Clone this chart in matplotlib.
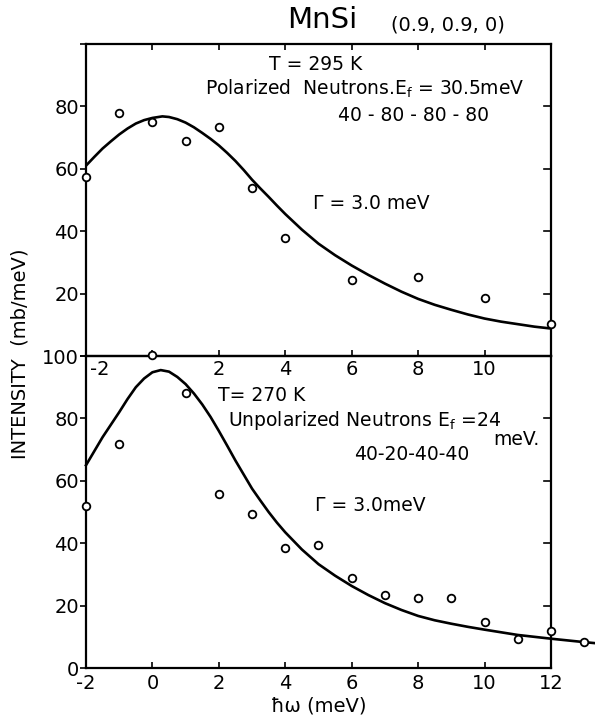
import matplotlib
matplotlib.use("Agg")
import matplotlib.pyplot as plt
import matplotlib.transforms as mtransforms

plt.rcParams['font.family'] = ['DejaVu Sans']
plt.rcParams['mathtext.fontset'] = 'dejavusans'

# upper panel: T = 295 K, polarized neutrons
hw_pol = [-2, -1, 0, 1, 2, 3, 4, 6, 8, 10, 12]
int_pol = [57.5, 78, 75, 69, 73.4, 53.7, 37.7, 24.3, 25.3, 18.6, 10.4]
fit_x_pol = [-2, -1.75, -1.5, -1.25, -1, -0.75, -0.5, -0.25, 0, 0.3, 0.5,
             0.75, 1, 1.25, 1.5, 1.75, 2, 2.25, 2.5, 2.75, 3, 3.25, 3.5,
             3.75, 4, 4.5, 5, 5.5, 6, 6.5, 7, 7.5, 8, 8.5, 9, 9.5, 10,
             10.5, 11, 11.5, 12]
fit_y_pol = [61, 63.8, 66.5, 68.8, 71, 72.9, 74.5, 75.6, 76.3, 76.8, 76.6,
             75.9, 74.8, 73.3, 71.5, 69.6, 67.5, 65.1, 62.5, 59.6, 56.5,
             53.7, 51, 48.2, 45.5, 40.5, 36, 32.3, 29, 26, 23.2, 20.6, 18.3,
             16.4, 14.8, 13.3, 12, 11, 10.2, 9.4, 8.8]

# lower panel: T = 270 K, unpolarized neutrons
hw_unp = [-2, -1, 0, 1, 2, 3, 4, 5, 6, 7, 8, 9, 10, 11, 12, 13]
int_unp = [52, 71.7, 100.3, 88.3, 55.8, 49.3, 38.4, 39.3, 28.8, 23.5, 22.6,
           22.4, 14.6, 9.4, 12, 8.2]
fit_x_unp = [-2, -1.75, -1.5, -1.25, -1, -0.75, -0.5, -0.25, 0, 0.25, 0.5,
             0.75, 1, 1.25, 1.5, 1.75, 2, 2.25, 2.5, 2.75, 3, 3.25, 3.5,
             3.75, 4, 4.5, 5, 5.5, 6, 6.5, 7, 7.5, 8, 8.5, 9, 9.5, 10, 11,
             12, 13, 13.3]
fit_y_unp = [65, 69.5, 74, 78, 82, 86.2, 90, 92.8, 94.8, 95.5, 95, 93.3, 91,
             88, 84.5, 80.5, 76, 71.3, 66.5, 62, 57.5, 53.7, 50, 46.6, 43.5,
             38, 33.3, 29.6, 26.3, 23.4, 20.8, 18.6, 16.7, 15.3, 14.2, 13.2,
             12.3, 10.6, 9.4, 8.3, 8.0]

x_ticks = [-2, 0, 2, 4, 6, 8, 10, 12]
y_ticks = [0, 20, 40, 60, 80, 100]

fig = plt.figure(figsize=(5.95, 7.19), dpi=100)
ax1 = fig.add_axes([0.1445, 0.5049, 0.7815, 0.4339])
ax2 = fig.add_axes([0.1445, 0.0709, 0.7815, 0.4339])
# both panels transparent: upper x labels sit inside the lower panel,
# and the lower panel's peak point sits on the shared line
ax1.patch.set_visible(False)
ax2.patch.set_visible(False)
ax2.set_zorder(3)

for ax in (ax1, ax2):
    ax.set_xlim(-2, 12)
    ax.set_ylim(0, 100)
    for s in ax.spines.values():
        s.set_linewidth(1.6)
    ax.tick_params(axis='x', direction='in', length=4, width=1.2,
                   labelsize=14, pad=3)
    ax.tick_params(axis='y', direction='out', length=4, width=1.2,
                   labelsize=14, pad=1)
    ax.set_xticks(x_ticks)

mk = dict(marker='o', ls='none', ms=5.5, mew=1.3, mec='black',
          mfc='white', clip_on=False, zorder=5)
line_kw = dict(color='black', lw=1.9, solid_joinstyle='round')

# ---- upper panel
ax1.plot(fit_x_pol, fit_y_pol, zorder=3, **line_kw)
ax1.plot(hw_pol, int_pol, **mk)
ax1.set_yticks(y_ticks)
ax1.set_yticklabels(['', '20', '40', '60', '80', ''])
ax1.set_xticklabels(['', '', '2', '4', '6', '8', '10', ''])
ax1.tick_params(axis='x', top=True)
trans = mtransforms.blended_transform_factory(ax1.transData, ax1.transAxes)
ax1.text(-1.88, -0.012, '-2', transform=trans, fontsize=14,
         ha='left', va='top')
for yv in [20, 40, 60, 80]:
    ax1.plot([12, 11.78], [yv, yv], color='black', lw=1.2, clip_on=False)

fs = 13.5
ax1.text(4.9, 93.5, 'T = 295 K', fontsize=fs, ha='center', va='center')
ax1.text(6.4, 85.5, r'Polarized  Neutrons.E$_\mathrm{f}$ = 30.5meV',
         fontsize=fs, ha='center', va='center')
ax1.text(7.85, 77, '40 - 80 - 80 - 80', fontsize=fs, ha='center',
         va='center')
ax1.text(6.6, 49, 'Γ = 3.0 meV', fontsize=fs, ha='center', va='center')

# ---- lower panel
ax2.plot(fit_x_unp, fit_y_unp, zorder=3, clip_on=False, **line_kw)
ax2.plot(hw_unp, int_unp, **mk)
ax2.set_yticks(y_ticks)
ax2.set_yticklabels(['0', '20', '40', '60', '80', '100'])
ax2.set_xticklabels(['-2', '0', '2', '4', '6', '8', '10', '12'])
ax2.tick_params(axis='x', pad=4)
for yv in [20, 40, 60, 80]:
    ax2.plot([12, 11.78], [yv, yv], color='black', lw=1.2, clip_on=False)

ax2.text(3.3, 87.5, 'T= 270 K', fontsize=fs, ha='center', va='center')
ax2.text(6.4, 79.2, r'Unpolarized Neutrons E$_\mathrm{f}$ =24',
         fontsize=fs, ha='center', va='center')
ax2.text(10.95, 73.3, 'meV.', fontsize=fs, ha='center', va='center')
ax2.text(7.8, 68.3, '40-20-40-40', fontsize=fs, ha='center', va='center')
ax2.text(6.55, 52, 'Γ = 3.0meV', fontsize=fs, ha='center', va='center')
ax2.set_xlabel('ħω (meV)', fontsize=14, labelpad=3)

fig.text(0.541, 0.972, 'MnSi', fontsize=21, ha='center', va='center')
fig.text(0.753, 0.965, '(0.9, 0.9, 0)', fontsize=14, ha='center',
         va='center')
fig.text(0.034, 1 - 354 / 719, 'INTENSITY  (mb/meV)', fontsize=14,
         rotation=90, ha='center', va='center')

fig.savefig('out.png', dpi=100)
